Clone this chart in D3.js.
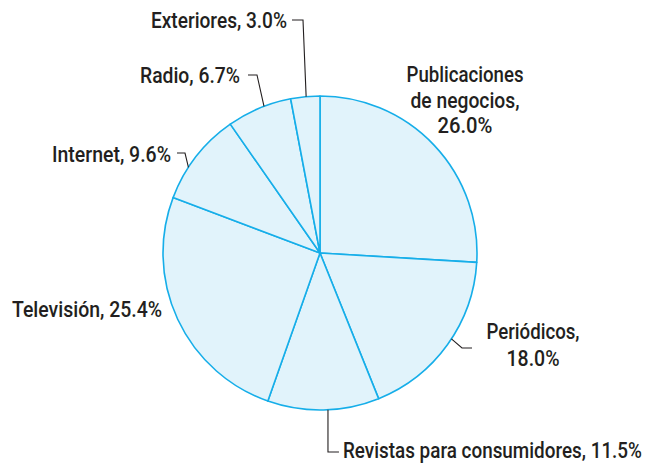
<!DOCTYPE html>
<html>
<head>
<meta charset="utf-8">
<script src="https://cdn.jsdelivr.net/npm/d3@7"></script>
<style>
  html, body { margin: 0; padding: 0; background: #fff; }
  svg { display: block; }
  text { font-family: Roboto, "Liberation Sans", sans-serif; font-weight: 500; font-size: 22px; fill: #231f20; }
</style>
</head>
<body>
<svg id="chart" width="649" height="465"></svg>
<script>
// Advertising spend share by medium (percent), clockwise from 12 o'clock
const categories = ["Publicaciones de negocios", "Periódicos", "Revistas para consumidores", "Televisión", "Internet", "Radio", "Exteriores"];
const values = [26.0, 18.0, 11.5, 25.4, 9.6, 6.7, 3.0];

// Label text lines per slice
const labelLines = [
  ["Publicaciones", "de negocios,", "26.0%"],
  ["Periódicos,", "18.0%"],
  ["Revistas para consumidores, 11.5%"],
  ["Televisión, 25.4%"],
  ["Internet, 9.6%"],
  ["Radio, 6.7%"],
  ["Exteriores, 3.0%"]
];

const svg = d3.select("#chart");
const cx = 320, cy = 253, r = 157;
const g = svg.append("g").attr("transform", `translate(${cx},${cy})`);

const data = categories.map((c, i) => ({ name: c, value: values[i], lines: labelLines[i] }));
const pie = d3.pie().value(d => d.value).sort(null);
const arcs = pie(data);
const arc = d3.arc().innerRadius(0).outerRadius(r);

g.selectAll("path.slice").data(arcs).join("path")
  .attr("class", "slice")
  .attr("d", arc)
  .attr("fill", "#e1f3fb")
  .attr("stroke", "#16aee9")
  .attr("stroke-width", 1.6)
  .attr("stroke-linejoin", "round");

// Point on the rim at a given fraction through a slice
function rim(a, t) {
  const ang = a.startAngle + (a.endAngle - a.startAngle) * t;
  return [cx + r * Math.sin(ang), cy - r * Math.cos(ang)];
}

// Label layout: anchor x, baselines, fitted widths per line, leader shape
// leader: t = fraction through the slice where it touches the rim
const layout = [
  { x: 465, ys: [82, 108, 133], widths: [117, 109, 55], anchor: "middle", leader: null },
  { x: 533, ys: [339, 366], widths: [93, 53], anchor: "middle",
    leader: { t: 0.46, pts: rp => [rp, [462, 348], [472, 348]] } },
  { x: 343, ys: [458], widths: [299], anchor: "start", size: 19,
    leader: { t: 0.46, pts: rp => [rp, [rp[0], 452], [rp[0] + 11, 452]] } },
  { x: 162, ys: [317], widths: [150], anchor: "end", leader: null },
  { x: 171, ys: [162], widths: [119], anchor: "end",
    leader: { t: 0.36, pts: rp => [rp, [185, 153], [177, 153]] } },
  { x: 240, ys: [83], widths: [100], anchor: "end",
    leader: { t: 0.58, pts: rp => [rp, [257, 75], [248, 75]] } },
  { x: 287, ys: [28], widths: [136], anchor: "end",
    leader: { t: 0.53, pts: rp => [rp, [303, 20], [292, 20]] } }
];

arcs.forEach((a, i) => {
  const L = layout[i];
  a.data.lines.forEach((ln, k) => {
    const t = svg.append("text")
      .attr("x", L.x).attr("y", L.ys[k])
      .attr("text-anchor", L.anchor)
      .attr("textLength", L.widths[k])
      .attr("lengthAdjust", "spacingAndGlyphs")
      .text(ln);
    if (L.size) t.style("font-size", L.size + "px").attr("transform", `translate(${L.x},${L.ys[k]}) scale(1,${22 / L.size}) translate(${-L.x},${-L.ys[k]})`);
  });
  if (L.leader) {
    const pts = L.leader.pts(rim(a, L.leader.t));
    svg.append("path")
      .attr("d", d3.line()(pts))
      .attr("fill", "none")
      .attr("stroke", "#231f20")
      .attr("stroke-width", 1.1);
  }
});
</script>
</body>
</html>
